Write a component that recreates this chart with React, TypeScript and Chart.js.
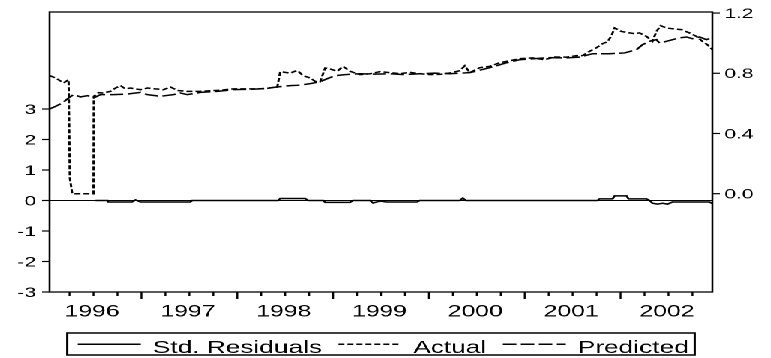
import React, { useEffect, useRef } from "react";
import { Chart, registerables } from "chart.js";

Chart.register(...registerables);

// ---- data (time in decimal years) ----
const yearLabels = [1996, 1997, 1998, 1999, 2000, 2001, 2002];
const leftTicks = [-3, -2, -1, 0, 1, 2, 3];
const rightTicks = [0, 0.4, 0.8, 1.2];
const seriesNames = ["Std. Residuals", "Actual", "Predicted"];

const residT = [1996.521, 1996.646, 1996.65, 1996.9, 1996.938, 1996.99, 1997.51, 1997.53, 1998.427, 1998.448, 1998.708, 1998.74, 1998.896, 1998.917, 1999.177, 1999.208, 1999.385, 1999.417, 1999.49, 1999.563, 1999.875, 1999.906, 2000.323, 2000.354, 2000.385, 2001.76, 2001.781, 2001.917, 2001.938, 2002.063, 2002.083, 2002.271, 2002.302, 2002.333, 2002.385, 2002.44, 2002.49, 2002.542, 2002.927, 2002.958];
const residV = [0, 0, -0.05, -0.05, 0.02, -0.05, -0.05, 0, 0, 0.065, 0.065, 0, 0, -0.06, -0.06, 0, 0, -0.08, -0.02, -0.05, -0.05, 0, 0, 0.08, 0, 0, 0.055, 0.055, 0.15, 0.15, 0.055, 0.055, 0, -0.09, -0.12, -0.09, -0.12, -0.05, -0.05, -0.1];

const actualT = [1996.042, 1996.104, 1996.188, 1996.24, 1996.253, 1996.278, 1996.5, 1996.503, 1996.552, 1996.604, 1996.677, 1996.729, 1996.781, 1996.833, 1996.885, 1996.99, 1997.063, 1997.146, 1997.229, 1997.302, 1997.375, 1997.479, 1997.615, 1997.792, 1997.958, 1998.135, 1998.292, 1998.417, 1998.448, 1998.552, 1998.625, 1998.688, 1998.76, 1998.813, 1998.865, 1998.917, 1998.969, 1999.042, 1999.104, 1999.177, 1999.281, 1999.385, 1999.49, 1999.594, 1999.698, 1999.802, 1999.906, 2000.01, 2000.115, 2000.219, 2000.323, 2000.375, 2000.427, 2000.531, 2000.635, 2000.74, 2000.813, 2000.948, 2001.083, 2001.208, 2001.313, 2001.438, 2001.542, 2001.604, 2001.677, 2001.75, 2001.813, 2001.865, 2001.906, 2001.938, 2002.01, 2002.073, 2002.146, 2002.198, 2002.271, 2002.333, 2002.375, 2002.417, 2002.479, 2002.563, 2002.635, 2002.719, 2002.792, 2002.854, 2002.906, 2002.958];
const actualV = [0.784, 0.769, 0.736, 0.757, 0.106, 0.0, 0.0, 0.647, 0.671, 0.669, 0.68, 0.702, 0.718, 0.696, 0.702, 0.691, 0.702, 0.696, 0.691, 0.709, 0.686, 0.68, 0.68, 0.686, 0.696, 0.696, 0.698, 0.709, 0.811, 0.801, 0.819, 0.784, 0.769, 0.746, 0.744, 0.835, 0.829, 0.813, 0.846, 0.813, 0.791, 0.797, 0.811, 0.804, 0.797, 0.806, 0.797, 0.791, 0.793, 0.802, 0.817, 0.85, 0.804, 0.837, 0.846, 0.87, 0.879, 0.897, 0.902, 0.89, 0.908, 0.907, 0.917, 0.917, 0.946, 0.97, 0.997, 1.01, 1.05, 1.101, 1.078, 1.07, 1.063, 1.068, 1.045, 1.012, 1.078, 1.116, 1.101, 1.094, 1.09, 1.068, 1.045, 1.012, 0.99, 0.957];

const predT = [1996.042, 1996.104, 1996.177, 1996.24, 1996.292, 1996.365, 1996.438, 1996.5, 1996.573, 1996.708, 1996.854, 1996.99, 1997.063, 1997.198, 1997.333, 1997.406, 1997.479, 1997.615, 1997.792, 1997.958, 1998.24, 1998.448, 1998.552, 1998.656, 1998.76, 1998.865, 1998.938, 1999.021, 1999.125, 1999.281, 1999.438, 1999.594, 1999.75, 1999.906, 2000.063, 2000.219, 2000.427, 2000.635, 2000.813, 2000.948, 2001.104, 2001.26, 2001.417, 2001.573, 2001.708, 2001.885, 2002.042, 2002.167, 2002.229, 2002.302, 2002.375, 2002.406, 2002.479, 2002.542, 2002.615, 2002.688, 2002.75, 2002.823, 2002.896, 2002.948];
const predV = [0.563, 0.58, 0.603, 0.636, 0.658, 0.643, 0.651, 0.636, 0.658, 0.658, 0.662, 0.673, 0.658, 0.647, 0.658, 0.669, 0.658, 0.673, 0.68, 0.691, 0.696, 0.711, 0.718, 0.721, 0.731, 0.744, 0.764, 0.784, 0.791, 0.797, 0.794, 0.797, 0.791, 0.797, 0.801, 0.797, 0.804, 0.837, 0.87, 0.89, 0.897, 0.904, 0.902, 0.907, 0.93, 0.93, 0.935, 0.957, 0.99, 1.012, 1.023, 1.001, 1.012, 1.023, 1.035, 1.041, 1.03, 1.041, 1.023, 1.035];

const FONT = '"Liberation Sans", Arial, Helvetica, sans-serif';

const pts = (t: number[], v: number[]) => t.map((x, i) => ({ x, y: v[i] }));

const framePlugin = {
  id: "evFrame",
  afterDraw(chart: any) {
    const { ctx, chartArea: a, scales } = chart;
    const xs = scales.x, yl = scales.y, yr = scales.y1;
    const seg = (x1: number, y1: number, x2: number, y2: number) => {
      ctx.beginPath();
      ctx.moveTo(x1, y1);
      ctx.lineTo(x2, y2);
      ctx.stroke();
    };
    ctx.save();
    ctx.strokeStyle = "#000";
    ctx.fillStyle = "#000";
    ctx.setLineDash([]);
    // zero line
    ctx.lineWidth = 1;
    const y0 = yl.getPixelForValue(0);
    seg(a.left, y0, a.right, y0);
    // frame
    ctx.lineWidth = 1.3;
    ctx.strokeRect(a.left, a.top, a.right - a.left, a.bottom - a.top);
    // left ticks
    ctx.font = "14px " + FONT;
    ctx.textAlign = "right";
    ctx.textBaseline = "middle";
    ctx.lineWidth = 1.2;
    leftTicks.forEach((v) => {
      const py = yl.getPixelForValue(v);
      seg(a.left - 5, py, a.left, py);
      ctx.fillText(String(v), a.left - 9, py + 1);
    });
    // right ticks
    ctx.textAlign = "left";
    rightTicks.forEach((v) => {
      const py = yr.getPixelForValue(v);
      seg(a.right, py, a.right + 5, py);
      ctx.fillText(v.toFixed(1), a.right + 8, py + 1);
    });
    // x ticks (quarters, longer at year boundaries)
    const qs = Math.ceil(xs.min * 4);
    const qe = Math.floor(xs.max * 4);
    for (let q = qs; q <= qe; q++) {
      const px = xs.getPixelForValue(q / 4);
      const len = q % 4 === 0 ? 7 : 4;
      seg(px, a.bottom, px, a.bottom + len);
    }
    ctx.font = "16.5px " + FONT;
    ctx.textAlign = "center";
    ctx.textBaseline = "alphabetic";
    yearLabels.forEach((yv) => {
      ctx.fillText(String(yv), xs.getPixelForValue(yv + 0.5) - 1, a.bottom + 24.5);
    });
    // legend
    ctx.font = "17.5px " + FONT;
    const ds = chart.data.datasets;
    const sample = 42, gapST = 8, gapItem = 11, padL = 7, padR = 4;
    const widths = ds.map((d: any) => ctx.measureText(d.label).width);
    let total = padL + padR + gapItem * (ds.length - 1);
    widths.forEach((w: number) => (total += sample + gapST + w));
    const boxLeft = (a.left + a.right) / 2 - total / 2;
    const boxTop = a.bottom + 41;
    const boxH = 22;
    ctx.lineWidth = 1.5;
    ctx.strokeRect(boxLeft, boxTop, total, boxH);
    let cx = boxLeft + padL;
    ctx.textAlign = "left";
    ds.forEach((d: any, i: number) => {
      ctx.lineWidth = 1.5;
      ctx.setLineDash(d.borderDash || []);
      seg(cx, boxTop + 11.3, cx + sample, boxTop + 11.3);
      ctx.setLineDash([]);
      cx += sample + gapST;
      ctx.fillText(d.label, cx, boxTop + 19.8);
      cx += widths[i] + gapItem;
    });
    ctx.restore();
  },
};

export default function App() {
  const ref = useRef<HTMLCanvasElement | null>(null);
  useEffect(() => {
    if (!ref.current) return;
    const hidden = {
      grid: { display: false, drawTicks: false },
      border: { display: false },
      ticks: { display: false },
    };
    const chart = new Chart(ref.current, {
      type: "line",
      data: {
        datasets: [
          {
            label: seriesNames[0],
            data: pts(residT, residV),
            yAxisID: "y",
            borderColor: "#000",
            borderWidth: 1.5,
            borderDash: [],
            pointRadius: 0,
            tension: 0,
          },
          {
            label: seriesNames[1],
            data: pts(actualT, actualV),
            yAxisID: "y1",
            borderColor: "#000",
            borderWidth: 1.5,
            borderDash: [4, 2],
            pointRadius: 0,
            tension: 0,
          },
          {
            label: seriesNames[2],
            data: pts(predT, predV),
            yAxisID: "y1",
            borderColor: "#000",
            borderWidth: 1.5,
            borderDash: [9, 3],
            pointRadius: 0,
            tension: 0,
          },
        ],
      },
      options: {
        animation: false,
        responsive: false,
        devicePixelRatio: 2,
        layout: { padding: { top: 12, left: 0, right: 0, bottom: 0 } },
        plugins: { legend: { display: false }, tooltip: { enabled: false } },
        scales: {
          x: {
            type: "linear",
            min: 1996.042,
            max: 2002.958,
            ...hidden,
            afterFit: (s: any) => {
              s.height = 66;
            },
          },
          y: {
            type: "linear",
            position: "left",
            min: -3,
            max: 6.18,
            ...hidden,
            afterFit: (s: any) => {
              s.width = 33;
            },
          },
          y1: {
            type: "linear",
            position: "right",
            min: -0.653,
            max: 1.207,
            ...hidden,
            afterFit: (s: any) => {
              s.width = 39;
            },
          },
        },
      } as any,
      plugins: [framePlugin],
    });
    return () => chart.destroy();
  }, []);

  return (
    <div
      style={{
        position: "absolute",
        left: 0,
        top: 0,
        width: 514,
        height: 358,
        transform: "scaleX(1.5)",
        transformOrigin: "0 0",
        background: "#fff",
      }}
    >
      <canvas ref={ref} width={514} height={358} style={{ width: 514, height: 358, display: "block" }} />
    </div>
  );
}
